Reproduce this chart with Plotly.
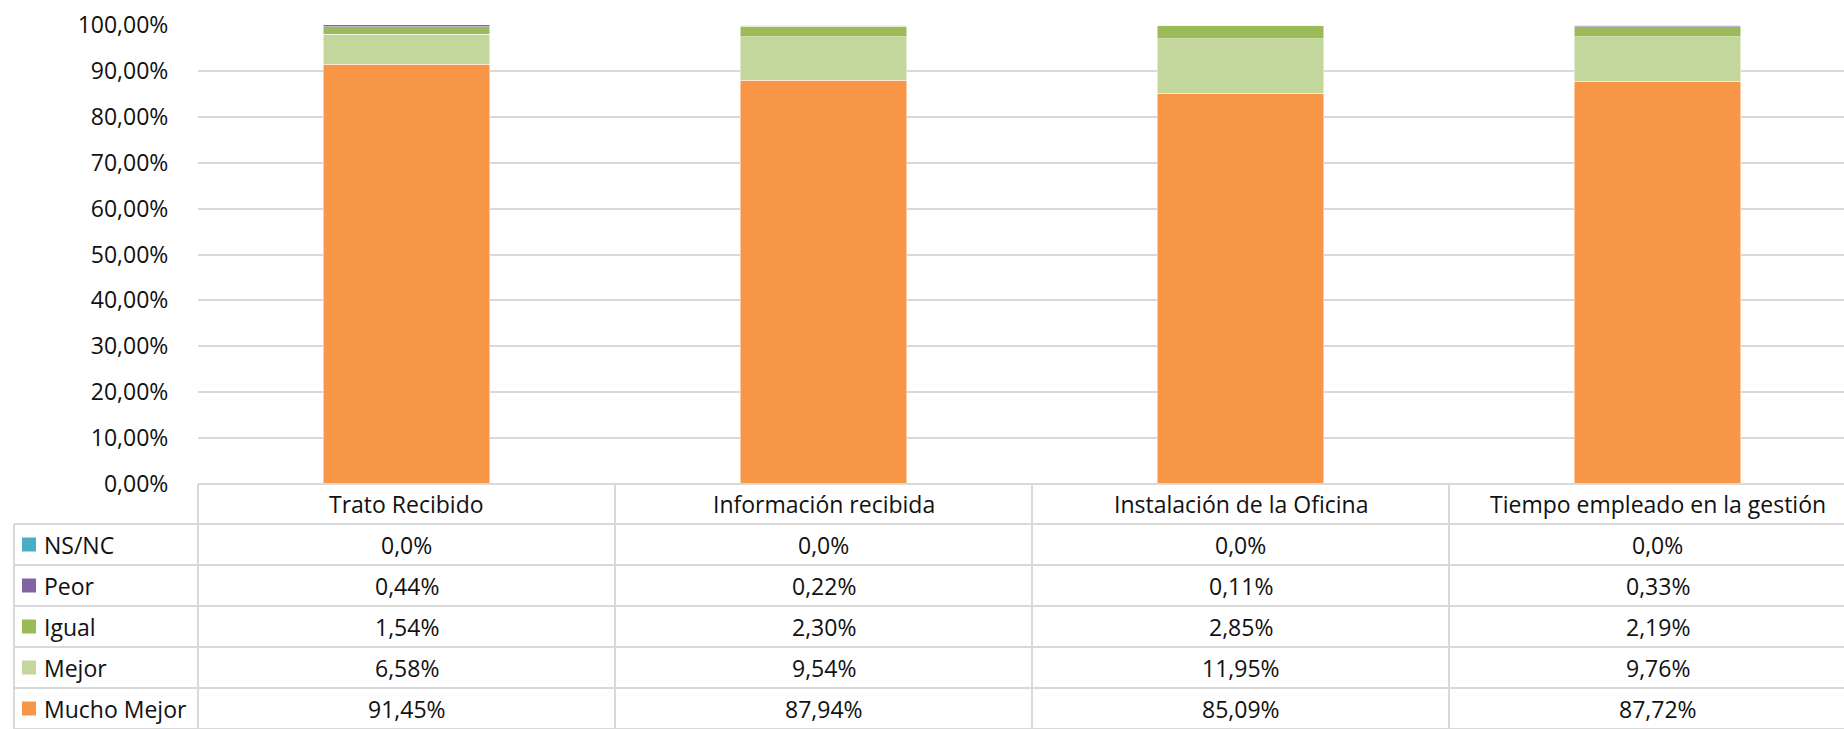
import plotly.graph_objects as go

categories = ["Trato Recibido", "Información recibida", "Instalación de la Oficina", "Tiempo empleado en la gestión"]
mucho_mejor = [91.45, 87.94, 85.09, 87.72]
mejor = [6.58, 9.54, 11.95, 9.76]
igual = [1.54, 2.30, 2.85, 2.19]
peor = [0.44, 0.22, 0.11, 0.33]
ns_nc = [0.0, 0.0, 0.0, 0.0]

# stacking order bottom -> top
series = [
    ("Mucho Mejor", mucho_mejor, "#F79646"),
    ("Mejor", mejor, "#C3D69B"),
    ("Igual", igual, "#9BBB59"),
    ("Peor", peor, "#8064A2"),
    ("NS/NC", ns_nc, "#4BACC6"),
]

W, H = 1844, 729
left, top, bottom = 198, 25, 245
col_px = 417
x_min = -0.5
x_max = x_min + (W - left) / col_px
font = "Open Sans"
fsize = 23
grid = "#d9d9d9"


def fmt(v, dec):
    return f"{v:.{dec}f}".replace(".", ",") + "%"


def paper_x(px):
    return (px - left) / (W - left)


def paper_y(py):
    return (H - bottom - py) / (H - bottom - top)


def data_to_paper_x(x):
    return (x - x_min) / (x_max - x_min)


fig = go.Figure()
for name, vals, color in series:
    fig.add_trace(go.Bar(
        x=list(range(len(categories))), y=vals, name=name,
        marker=dict(color=color, line=dict(color="white", width=0.5)),
        width=0.4, showlegend=False,
    ))

shapes = []
annotations = []

# table geometry (pixels)
header_top, header_bot = 484, 524
row_h = 41
rows = list(reversed(series))  # NS/NC on top
table_bot = header_bot + row_h * len(rows)
legend_left = 14

# horizontal lines
shapes.append(dict(type="line", xref="paper", yref="paper",
                   x0=0, x1=1, y0=paper_y(header_top), y1=paper_y(header_top),
                   line=dict(color=grid, width=2)))
for i in range(len(rows) + 1):
    yy = paper_y(header_bot + i * row_h)
    shapes.append(dict(type="line", xref="paper", yref="paper",
                       x0=paper_x(legend_left), x1=1, y0=yy, y1=yy,
                       line=dict(color=grid, width=2)))
# vertical lines
for k in range(len(categories)):
    xx = data_to_paper_x(k - 0.5)
    shapes.append(dict(type="line", xref="paper", yref="paper",
                       x0=xx, x1=xx, y0=paper_y(header_top), y1=paper_y(table_bot),
                       line=dict(color=grid, width=2)))
shapes.append(dict(type="line", xref="paper", yref="paper",
                   x0=paper_x(legend_left), x1=paper_x(legend_left),
                   y0=paper_y(header_bot), y1=paper_y(table_bot),
                   line=dict(color=grid, width=2)))

# header labels
for k, cat in enumerate(categories):
    annotations.append(dict(x=k, y=paper_y((header_top + header_bot) / 2), xref="x", yref="paper",
                            text=cat, showarrow=False, yanchor="middle",
                            font=dict(size=fsize, color="#111", family=font)))

# rows
for i, (name, vals, color) in enumerate(rows):
    cy = header_bot + i * row_h + row_h / 2
    shapes.append(dict(type="rect", xref="paper", yref="paper",
                       x0=paper_x(22), x1=paper_x(36), y0=paper_y(cy - 7), y1=paper_y(cy + 7),
                       fillcolor=color, line=dict(width=0)))
    annotations.append(dict(x=paper_x(42), y=paper_y(cy), xref="paper", yref="paper",
                            text=name, showarrow=False, xanchor="left", yanchor="middle",
                            font=dict(size=fsize, color="#111", family=font)))
    dec = 1 if name == "NS/NC" else 2
    for k, v in enumerate(vals):
        annotations.append(dict(x=k, y=paper_y(cy), xref="x", yref="paper",
                                text=fmt(v, dec), showarrow=False, yanchor="middle",
                                font=dict(size=fsize, color="#111", family=font)))

fig.update_layout(
    barmode="stack",
    width=W, height=H,
    margin=dict(l=left, r=0, t=top, b=bottom),
    plot_bgcolor="white", paper_bgcolor="white",
    separators=",.",
    font=dict(family=font, size=fsize, color="#111"),
    shapes=shapes, annotations=annotations,
)
fig.update_xaxes(range=[x_min, x_max], showticklabels=False, showgrid=False,
                 zeroline=False, showline=False)
fig.update_yaxes(range=[0, 100], dtick=10, tickformat=".2f", ticksuffix="%",
                 showgrid=True, gridcolor=grid, gridwidth=2, zeroline=False,
                 ticks="outside", ticklen=24, tickcolor="rgba(0,0,0,0)",
                 tickfont=dict(size=fsize, color="#111", family=font))

fig.write_html("out.html", config={"displayModeBar": False},
               post_script="document.body.style.margin='0';")
